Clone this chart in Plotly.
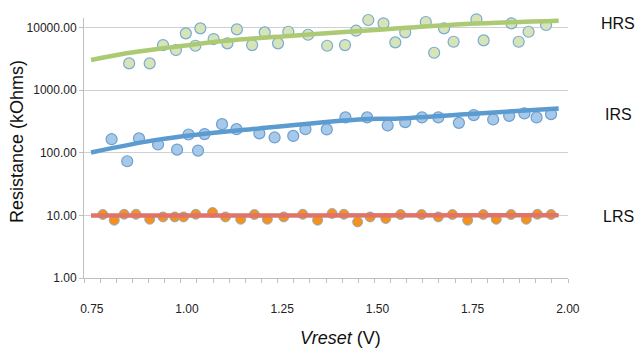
import math
import plotly.graph_objects as go

# ---- data ----
hrs_x = [0.848, 0.902, 0.937, 0.971, 0.997, 1.022, 1.035, 1.070, 1.106, 1.131, 1.171,
         1.204, 1.239, 1.266, 1.318, 1.368, 1.415, 1.444, 1.476, 1.516, 1.547, 1.573,
         1.627, 1.649, 1.675, 1.700, 1.760, 1.779, 1.852, 1.871, 1.897, 1.943, 1.979]
hrs_y = [2660, 2660, 5210, 4340, 8020, 5080, 9640, 6500, 5550, 9290, 5210,
         8320, 5550, 8510, 7620, 5080, 5210, 8830, 13090, 11590, 5760, 8320,
         12160, 3930, 9640, 5890, 13430, 6200, 11590, 5890, 8510, 10890, 14450]

irs_x = [0.802, 0.843, 0.874, 0.924, 0.974, 1.004, 1.029, 1.046, 1.092, 1.130, 1.190,
         1.230, 1.279, 1.311, 1.367, 1.416, 1.473, 1.527, 1.573, 1.617, 1.660, 1.714,
         1.753, 1.804, 1.846, 1.886, 1.918, 1.956]
irs_y = [164, 73, 169, 135, 112, 195, 108, 198, 285, 237, 203,
         175, 185, 237, 235, 365, 365, 272, 307, 365, 365, 299,
         397, 339, 387, 423, 365, 412]

lrs_x = [0.779, 0.809, 0.835, 0.866, 0.902, 0.937, 0.968, 0.991, 1.023, 1.067, 1.101,
         1.141, 1.177, 1.211, 1.254, 1.304, 1.343, 1.381, 1.412, 1.448, 1.481, 1.522,
         1.561, 1.616, 1.660, 1.697, 1.737, 1.778, 1.812, 1.851, 1.891, 1.920, 1.956, 2.002]
lrs_y = [10.3, 8.35, 10.4, 10.4, 8.66, 9.43, 9.43, 9.43, 10.4, 11.1, 9.43,
         8.66, 10.3, 8.66, 9.43, 10.4, 8.35, 10.7, 10.4, 7.85, 9.43, 8.89,
         10.3, 10.3, 9.43, 10.3, 8.35, 10.3, 8.66, 10.3, 8.66, 10.4, 10.3, 10.4]

# trendlines
hrs_trend_x = [0.748, 0.841, 0.937, 1.103, 1.278, 1.452, 1.557, 1.732, 1.976]
hrs_trend_y = [3006, 3846, 4622, 6109, 7345, 8730, 9640, 11300, 12740]
irs_trend_x = [0.748, 0.929, 1.190, 1.452, 1.557, 1.732, 1.976]
irs_trend_y = [100.7, 163, 244, 339, 352, 412, 508]
lrs_trend_x = [0.748, 1.976]
lrs_trend_y = [9.9, 10.0]

x_tick_vals = [0.75, 1.00, 1.25, 1.50, 1.75, 2.00]
x_tick_text = ["0.75", "1.00", "1.25", "1.50", "1.75", "2.00"]
y_tick_vals = [1, 10, 100, 1000, 10000]
y_tick_text = ["1.00", "10.00", "100.00", "1000.00", "10000.00"]
series_labels = ["HRS", "IRS", "LRS"]
label_values = [11500, 410, 9.7]

FONT = "Liberation Sans"
X0, X1 = 0.7295, 2.0005

fig = go.Figure()

fig.add_trace(go.Scatter(
    x=hrs_x, y=hrs_y, mode="markers", cliponaxis=False,
    marker=dict(size=11, color="#d6e4b8", line=dict(color="#7aaad6", width=1.2))))
fig.add_trace(go.Scatter(
    x=irs_x, y=irs_y, mode="markers", cliponaxis=False,
    marker=dict(size=11, color="#a6c9e9", line=dict(color="#6d9fd0", width=1.2))))
fig.add_trace(go.Scatter(
    x=lrs_x, y=lrs_y, mode="markers", cliponaxis=False,
    marker=dict(size=10, color="#f5921e", line=dict(color="#7aaad6", width=0.8))))

fig.add_trace(go.Scatter(
    x=hrs_trend_x, y=hrs_trend_y, mode="lines", cliponaxis=False,
    line=dict(color="#abca73", width=4.5, shape="spline")))
fig.add_trace(go.Scatter(
    x=irs_trend_x, y=irs_trend_y, mode="lines", cliponaxis=False,
    line=dict(color="#5b9bd0", width=4.5, shape="spline")))
fig.add_trace(go.Scatter(
    x=lrs_trend_x, y=lrs_trend_y, mode="lines", cliponaxis=False,
    line=dict(color="#df7469", width=4.5)))

PW = 568 - 84   # plot width in px
PH = 278 - 18   # plot height in px

annotations = []
for lab, val in zip(series_labels, label_values):
    annotations.append(dict(
        x=(618 - 84) / PW, xref="paper", y=math.log10(val), yref="y",
        xanchor="center", yanchor="middle",
        text=lab, showarrow=False, font=dict(family=FONT, size=16, color="#111111")))
annotations.append(dict(
    x=(340 - 84) / PW, xref="paper", y=-(338 - 278) / PH, yref="paper",
    xanchor="center", yanchor="middle", showarrow=False,
    text="<i>Vreset</i> (V)", font=dict(family=FONT, size=18, color="#111111")))
annotations.append(dict(
    x=-(84 - 17) / PW, xref="paper", y=(278 - 142) / PH, yref="paper",
    xanchor="center", yanchor="middle", showarrow=False, textangle=-90,
    text="Resistance (kOhms)", font=dict(family=FONT, size=18, color="#111111")))

fig.update_layout(
    width=637, height=349,
    margin=dict(l=84, r=69, t=18, b=71, autoexpand=False),
    paper_bgcolor="white", plot_bgcolor="white",
    showlegend=False,
    font=dict(family=FONT, size=12, color="#222222"),
    annotations=annotations,
)

fig.update_xaxes(
    range=[X0, X1], tickmode="array", tickvals=x_tick_vals, ticktext=x_tick_text,
    ticks="", showgrid=False, zeroline=False, automargin=False,
    showline=True, linecolor="#bfbfbf", linewidth=1,
    ticklabelstandoff=20,
    tickfont=dict(family=FONT, size=12, color="#222222"),
    minor=dict(ticks="outside", ticklen=4, tickcolor="#bfbfbf",
               tick0=X0, dtick=(X1 - X0) / 30, showgrid=False),
)
fig.update_yaxes(
    type="log", range=[0, 4.149], tickmode="array", tickvals=y_tick_vals, ticktext=y_tick_text,
    ticks="outside", ticklen=4, tickcolor="#bfbfbf", automargin=False,
    showgrid=True, gridcolor="#d0d0d0", gridwidth=1, zeroline=False,
    showline=True, linecolor="#bfbfbf", linewidth=1,
    tickfont=dict(family=FONT, size=12, color="#222222"),
)

fig.write_html(
    "out.html",
    config={"displayModeBar": False},
    post_script="document.body.style.margin='0';document.body.style.overflow='hidden';",
)
